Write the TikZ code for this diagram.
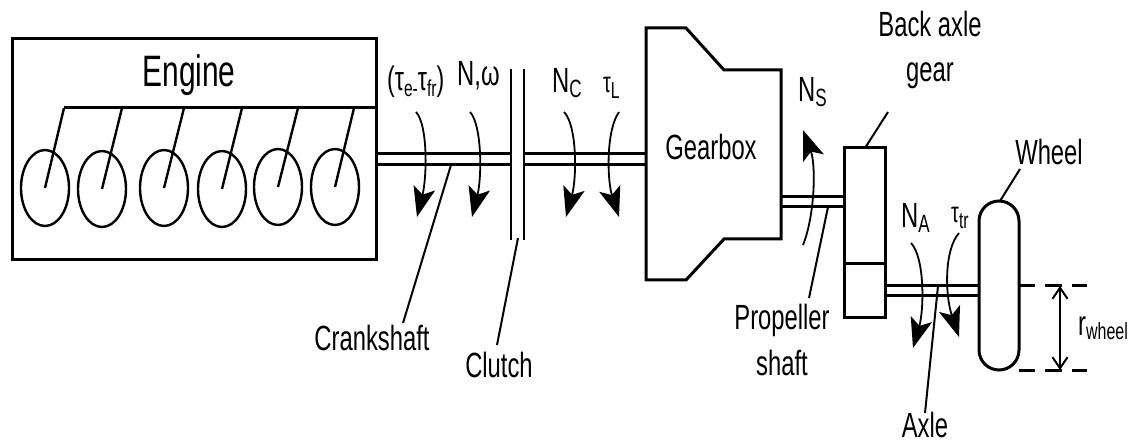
\documentclass[tikz,border=0pt]{standalone}
\usepackage{fontspec}
\usetikzlibrary{arrows.meta,calc}
\newfontfamily\narrowfont[FakeStretch=0.68]{Liberation Sans}
\newcommand{\lowsub}[1]{{\fontsize{25}{25}\selectfont\raisebox{-0.2em}{#1}}}
\newcommand{\midsub}[1]{{\fontsize{23}{23}\selectfont\raisebox{-0.26em}{#1}}}
\tikzset{
  heavy/.style={line width=3pt,draw=black},
  thin leader/.style={line width=2pt,draw=black},
  lbl/.style={font=\narrowfont\fontsize{35}{38}\selectfont,inner sep=0pt,anchor=base},
  lblw/.style={lbl,anchor=base west},
  torque/.style={line width=1.8pt,-{Stealth[length=30pt,width=22pt,inset=7pt]}},
  cyl/.style={line width=2.4pt,draw=black}
}
\begin{document}
\begin{tikzpicture}[x=1pt,y=-1pt]
\useasboundingbox (0,0) rectangle (1129,443);
% engine
\draw[heavy] (12,39) rectangle (376,260);
\node[lbl,font=\narrowfont\fontsize{44}{46}\selectfont] (engine) at (189,87) {Engine};
\coordinate (crankL) at (64,108);
\coordinate (crankR) at (376,108);
\draw[heavy] (crankL) -- (crankR);
\foreach \n/\cx/\cy/\tx in {1/45/188/64,2/102/189/122,3/164/188/184,4/222/189/242,5/278/187/298,6/335/187/354}{
  \draw[cyl] (\cx,\cy) ellipse [x radius=24,y radius=38];
  \draw[cyl] (\cx,\cy) -- (\tx,108);
}
% shafts
\draw[heavy] (376,154) -- (511,154) (376,165) -- (511,165);
\draw[heavy] (525,154) -- (646,154) (525,165) -- (646,165);
\draw[thin leader] (511,69) -- (511,240) (524,69) -- (524,240);
% gearbox
\draw[heavy] (646,28) -- (686,28) -- (724,70) -- (781,70) -- (781,239) -- (724,239) -- (686,280) -- (646,280) -- cycle;
\node[lbl] (gearbox) at (711,160) {Gearbox};
\draw[heavy] (781,197) -- (844,197) (781,207) -- (844,207);
% back axle gear
\draw[heavy] (844,148) rectangle (885,318);
\draw[heavy] (844,264) -- (885,264);
\draw[heavy] (885,286) -- (979,286) (885,296) -- (979,296);
% wheel
\draw[heavy,rounded corners=20pt] (979,201) rectangle (1019,370);
\draw[heavy] (1019,286) -- (1035,286) (1045,286) -- (1062,286) (1072,286) -- (1087,286);
\draw[heavy] (1019,370) -- (1035,370) (1045,370) -- (1062,370) (1072,370) -- (1087,370);
\draw[line width=2pt,{Straight Barb[length=11pt,width=15pt]}-{Straight Barb[length=11pt,width=15pt]}] (1060,286) -- (1060,370);
% torque arrows
\draw[torque] (416,112) .. controls (428,125) and (427,177) .. (417,217);
\draw[torque] (470,112) .. controls (482,125) and (482,177) .. (472,217);
\draw[torque] (564,112) .. controls (577,125) and (577,177) .. (566,217);
\draw[torque] (619,112) .. controls (606,130) and (607,180) .. (619,217);
\draw[torque] (803,245) .. controls (815,215) and (816,165) .. (803,130);
\draw[torque] (911,243) .. controls (925,258) and (924,310) .. (913,348);
\draw[torque] (959,233) .. controls (944,250) and (945,295) .. (959,337);
% labels
\node[lblw,font=\narrowfont\fontsize{34}{36}\selectfont] (torquee) at (387,91) {(τ\midsub{e-}τ\midsub{fr})};
\node[lblw] (speed) at (457,86) {N,ω};
\node[lblw] (nc) at (552,93) {N\lowsub{C}};
\node[lblw,font=\narrowfont\fontsize{29}{32}\selectfont] (tl) at (603,93) {τ\midsub{L}};
\node[lblw] (ns) at (798,102) {N\lowsub{S}};
\node[lbl] (bag1) at (930,37) {Back axle};
\node[lbl] (bag2) at (930,82) {gear};
\node[lbl] (wheel) at (1049,165) {Wheel};
\node[lblw] (na) at (901,228) {N\lowsub{A}};
\node[lblw,font=\narrowfont\fontsize{29}{32}\selectfont] (ttr) at (951,223) {τ\midsub{tr}};
\node[lblw] (rw) at (1078,335) {r{\fontsize{23.5}{24}\selectfont\raisebox{-0.2em}{wheel}}};
\node[lbl] (axle) at (925,437) {Axle};
\node[lbl] (prop1) at (782,330) {Propeller};
\node[lbl] (prop2) at (782,375) {shaft};
\node[lbl] (crank) at (372,351) {Crankshaft};
\node[lbl] (clutch) at (499,377) {Clutch};
% leaders
\coordinate (crankA) at (451,165); \coordinate (crankB) at (403,323);
\coordinate (clutchA) at (518,238); \coordinate (clutchB) at (497,345);
\coordinate (gearA) at (888,112); \coordinate (gearB) at (865,148);
\coordinate (wheelA) at (1020,169); \coordinate (wheelB) at (1000,201);
\coordinate (propA) at (828,207); \coordinate (propB) at (809,298);
\coordinate (axleA) at (938,286); \coordinate (axleB) at (925,413);
\draw[thin leader] (crankA) -- (crankB);
\draw[thin leader] (clutchA) -- (clutchB);
\draw[thin leader] (gearA) -- (gearB);
\draw[thin leader] (wheelA) -- (wheelB);
\draw[thin leader] (propA) -- (propB);
\draw[thin leader] (axleA) -- (axleB);
\end{tikzpicture}
\end{document}
